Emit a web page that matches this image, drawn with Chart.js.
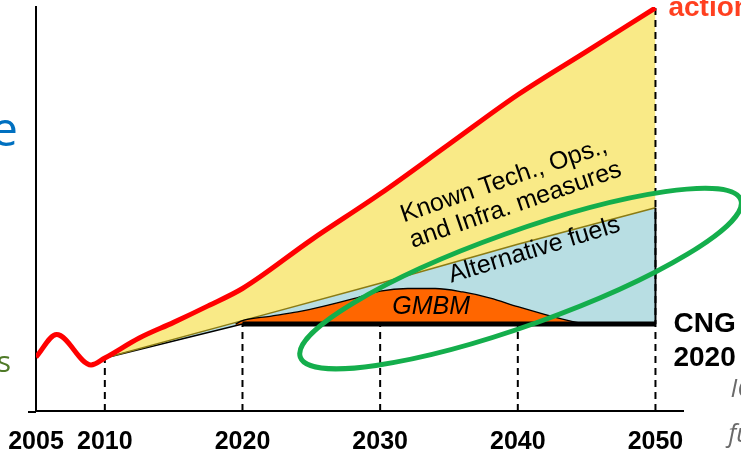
<!DOCTYPE html>
<html>
<head>
<meta charset="utf-8">
<title>Basket of measures - emissions to 2050</title>
<script src="https://cdn.jsdelivr.net/npm/chart.js@4.4.1/dist/chart.umd.min.js"></script>
<style>
    html, body { margin: 0; padding: 0; background: #fff; }
    #wrap { position: relative; width: 741px; height: 454px; overflow: hidden; }
</style>
</head>
<body>
<div id="wrap"><canvas id="emissionsChart" width="741" height="454"></canvas></div>
<script>
// Emissions index (CNG2020 level = 100)

const tickYears = [2005, 2010, 2020, 2030, 2040, 2050];
const tickLabels = ['2005', '2010', '2020', '2030', '2040', '2050'];

// "no action" trend (red)
const noActionYears = [2005, 2006.5, 2009, 2010, 2012.5, 2015, 2017.5, 2020, 2025, 2030, 2035, 2040, 2045, 2050];
const noActionValues = [62, 88, 53, 61, 84, 102, 121, 141, 197, 250, 307, 364, 414, 464];

// after known tech / ops / infra measures = top of alternative fuels wedge
const altFuelYears = [2010, 2020, 2030, 2040, 2050];
const altFuelValues = [61, 104, 147, 192, 234];

// top of GMBM hump
const gmbmYears = [2019.5, 2020, 2022, 2024, 2026, 2028, 2030, 2032, 2034, 2036, 2038, 2040, 2042, 2044, 2045];
const gmbmValues = [100, 104, 109, 114, 121, 129, 138, 141, 141, 137, 130, 120, 111, 103, 100];

// lower edge of the wedge
const baselineYears = [2010, 2020, 2050];
const baselineValues = [61, 100, 100];

// carbon neutral growth from 2020
const cngYears = [2020, 2050];
const cngValues = [100, 100];

// dashed drop lines: year and the value they reach up to
const markerYears = [2010, 2020, 2030, 2040, 2050];
const markerTops = [61, 100, 100, 100, 464];

function pts(xs, ys) {
    return xs.map(function(x, i) { return { x: x, y: ys[i] }; });
}

const datasets = [
    {
        label: 'No action',
        data: pts(noActionYears, noActionValues),
        borderColor: '#ff0000',
        backgroundColor: '#f9ea87',
        borderWidth: 5,
        cubicInterpolationMode: 'monotone',
        fill: 1,
        order: 0
    },
    {
        label: 'Alternative fuels',
        data: pts(altFuelYears, altFuelValues),
        borderColor: '#8a7b14',
        backgroundColor: '#b8dee3',
        borderWidth: 1.5,
        fill: 3,
        order: 4
    },
    {
        label: 'GMBM',
        data: pts(gmbmYears, gmbmValues),
        borderColor: '#000000',
        backgroundColor: '#ff6600',
        borderWidth: 1.3,
        cubicInterpolationMode: 'monotone',
        fill: 3,
        order: 3
    },
    {
        label: 'Baseline',
        data: pts(baselineYears, baselineValues),
        borderColor: '#000000',
        borderWidth: 1.5,
        fill: false,
        order: 5
    },
    {
        label: 'CNG2020',
        data: pts(cngYears, cngValues),
        borderColor: '#000000',
        borderWidth: 5,
        borderCapStyle: 'butt',
        fill: false,
        order: 2
    }
];

// dashed verticals
markerYears.forEach(function(yr, i) {
    datasets.push({
        label: 'marker ' + yr,
        data: [{ x: yr, y: 0 }, { x: yr, y: markerTops[i] }],
        borderColor: '#000000',
        borderWidth: 2,
        borderDash: [7, 5],
        fill: false,
        order: 1
    });
});

// solid right edge of the alternative fuels wedge
datasets.push({
    label: 'edge 2050',
    data: [{ x: 2050, y: cngValues[1] }, { x: 2050, y: altFuelValues[altFuelValues.length - 1] }],
    borderColor: '#000000',
    borderWidth: 2,
    fill: false,
    order: 1
});

// labels, ellipse and slide fragments
const annotations = {
    id: 'annotations',
    afterDatasetsDraw(chart) {
        const ctx = chart.ctx;
        const x = chart.scales.x;
        const y = chart.scales.y;
        const area = chart.chartArea;

        ctx.save();

        // x axis runs a little past the y axis on the slide
        ctx.strokeStyle = '#000';
        ctx.lineWidth = 2;
        ctx.beginPath();
        ctx.moveTo(area.left - 8, area.bottom + 1);
        ctx.lineTo(area.left, area.bottom + 1);
        ctx.stroke();

        ctx.fillStyle = '#000';
        ctx.textAlign = 'center';
        ctx.textBaseline = 'middle';

        // Known Tech. label
        ctx.save();
        ctx.translate(x.getPixelForValue(2039.3), y.getPixelForValue(251));
        ctx.rotate(-19 * Math.PI / 180);
        ctx.font = '25px "Liberation Sans", Arial, sans-serif';
        ctx.fillText('Known Tech., Ops.,', 0, -13);
        ctx.fillText('and Infra. measures', 3, 14);
        ctx.restore();

        // Alternative fuels label
        ctx.save();
        ctx.translate(x.getPixelForValue(2041.2), y.getPixelForValue(185));
        ctx.rotate(-17 * Math.PI / 180);
        ctx.font = '25px "Liberation Sans", Arial, sans-serif';
        ctx.fillText('Alternative fuels', 0, 0);
        ctx.restore();

        // GMBM label
        ctx.font = 'italic 25px "Liberation Sans", Arial, sans-serif';
        ctx.fillText('GMBM', x.getPixelForValue(2033.7), y.getPixelForValue(120));

        // green ellipse
        const x1 = x.getPixelForValue(2024.2), y1 = y.getPixelForValue(62);
        const x2 = x.getPixelForValue(2056.2), y2 = y.getPixelForValue(243);
        const cx = (x1 + x2) / 2, cy = (y1 + y2) / 2;
        const rx = Math.hypot(x2 - x1, y2 - y1) / 2;
        const rot = Math.atan2(y2 - y1, x2 - x1);
        ctx.beginPath();
        ctx.ellipse(cx, cy, rx, 47, rot, 0, Math.PI * 2);
        ctx.strokeStyle = '#14ae4c';
        ctx.lineWidth = 5;
        ctx.stroke();

        // right side texts
        const right = x.getPixelForValue(2050);
        ctx.textAlign = 'left';
        ctx.font = 'bold 28px "Liberation Sans", Arial, sans-serif';
        ctx.fillStyle = '#000';
        ctx.fillText('CNG', right + 18, y.getPixelForValue(100));
        ctx.fillText('2020', right + 18, y.getPixelForValue(100) + 34);

        ctx.textBaseline = 'alphabetic';
        ctx.font = 'bold 28px "Liberation Sans", Arial, sans-serif';
        ctx.fillStyle = '#ff4020';
        ctx.fillText('action', right + 13, area.top + 9);

        ctx.font = 'italic 25px "Open Sans", sans-serif';
        ctx.fillStyle = '#6a6a6a';
        ctx.fillText('IC', right + 75, area.bottom - 14);
        ctx.fillText('fu', right + 73, area.bottom + 31);

        // left side fragments
        ctx.textAlign = 'right';
        ctx.font = '48px "Open Sans", sans-serif';
        ctx.fillStyle = '#0070c0';
        ctx.fillText('e', area.left - 18, 146);
        ctx.font = '30px "Open Sans", sans-serif';
        ctx.fillStyle = '#4f7a28';
        ctx.fillText('s', area.left - 25, 372);

        ctx.restore();
    }
};

new Chart(document.getElementById('emissionsChart').getContext('2d'), {
    type: 'line',
    data: { datasets: datasets },
    options: {
        responsive: false,
        animation: false,
        events: [],
        devicePixelRatio: 1,
        layout: { padding: { left: 36, right: 58, top: 7, bottom: 0 } },
        elements: { point: { radius: 0 } },
        plugins: {
            legend: { display: false },
            tooltip: { enabled: false },
            filler: { drawTime: 'beforeDatasetsDraw' }
        },
        scales: {
            x: {
                type: 'linear',
                min: 2005,
                max: 2052,
                afterBuildTicks: function(scale) {
                    scale.ticks = tickYears.map(function(v) { return { value: v }; });
                },
                afterFit: function(scale) {
                    // labels sit low under the axis on the slide
                    scale.height = 43;
                    scale.paddingLeft = 0;
                },
                ticks: {
                    autoSkip: false,
                    maxRotation: 0,
                    padding: 19,
                    color: '#000',
                    font: { family: '"Liberation Sans", Arial, sans-serif', size: 25, weight: 'bold', lineHeight: 1 },
                    callback: function(value, index) { return tickLabels[index]; }
                },
                grid: { display: false, drawTicks: false },
                border: { display: true, color: '#000', width: 2 }
            },
            y: {
                type: 'linear',
                min: 0,
                max: 465,
                ticks: { display: false },
                grid: { display: false, drawTicks: false },
                border: { display: true, color: '#000', width: 2 }
            }
        }
    },
    plugins: [annotations]
});
</script>
</body>
</html>
